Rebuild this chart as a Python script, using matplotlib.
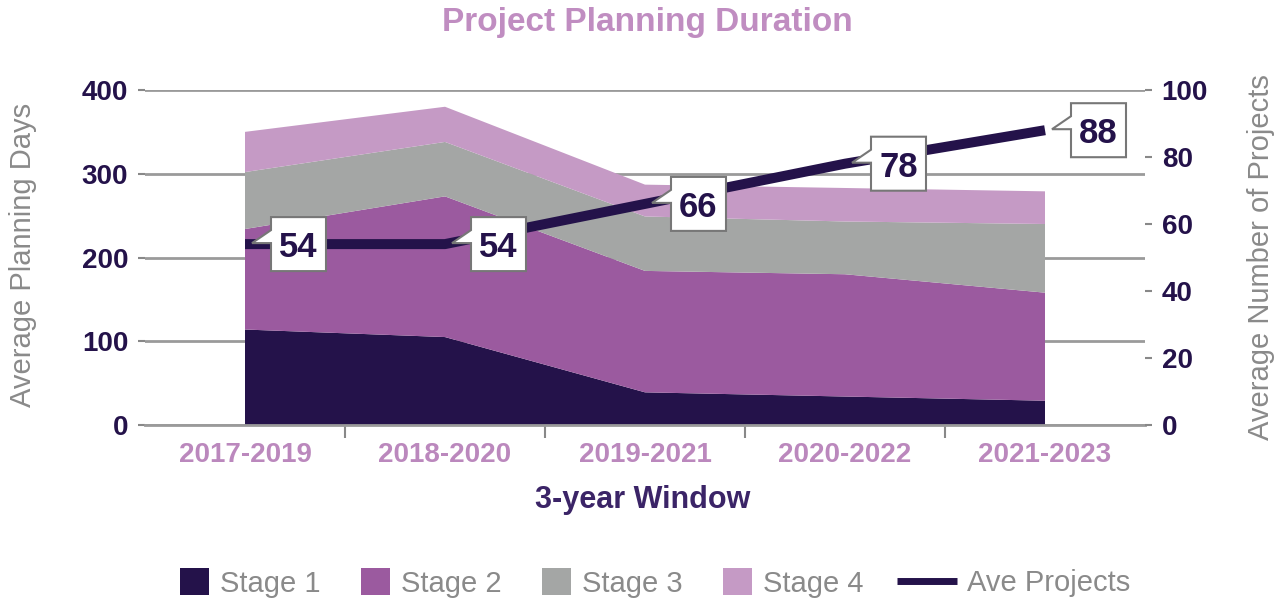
import numpy as np
import matplotlib.pyplot as plt
import matplotlib.transforms as mtransforms
from matplotlib.patches import Patch, Polygon
from matplotlib.lines import Line2D

plt.rcParams['font.family'] = ['Liberation Sans', 'DejaVu Sans']

windows = ['2017-2019', '2018-2020', '2019-2021', '2020-2022', '2021-2023']
stage1 = [114, 105, 39, 34, 29]
stage2 = [120, 168, 145, 146, 129]
stage3 = [68, 65, 65, 63, 82]
stage4 = [48, 42, 38, 40, 39]
ave_projects = [54, 54, 66, 78, 88]

stage_labels = ['Stage 1', 'Stage 2', 'Stage 3', 'Stage 4']
stage_colors = ['#24124a', '#9b5a9f', '#a4a6a5', '#c59ac5']
line_color = '#24124a'
dark = '#24124a'
pink = '#bb88bd'
gray_txt = '#8a8a8a'
grid_c = '#9a9a9a'

W, H = 1286, 602
fig = plt.figure(figsize=(W / 100, H / 100), dpi=100)
ax = fig.add_axes([145 / W, 177 / H, 1000 / W, 335 / H])

x = np.arange(len(windows))
ax.stackplot(x, stage1, stage2, stage3, stage4, colors=stage_colors, linewidth=0)
ax.set_xlim(-0.5, len(windows) - 0.5)
ax.set_ylim(0, 400)
ax.set_yticks([0, 100, 200, 300, 400])
ax.grid(axis='y', color=grid_c, lw=2)
ax.set_axisbelow(True)
for s in ['top', 'left', 'right']:
    ax.spines[s].set_visible(False)
ax.spines['bottom'].set_color(grid_c)
ax.spines['bottom'].set_linewidth(2)

ax.set_xticks(x, windows)
ax.set_xticks(x[:-1] + 0.5, minor=True)
ax.tick_params(axis='x', which='major', length=0, pad=12, labelsize=20, labelcolor=pink)
ax.tick_params(axis='x', which='minor', length=9, width=1.5, color='#888888')
ax.tick_params(axis='y', length=5, width=1.5, color='#888888', pad=7,
               labelsize=20, labelcolor=dark)
for lbl in ax.get_xticklabels() + ax.get_yticklabels():
    lbl.set_fontweight('bold')

# secondary axis: average number of projects
ax2 = ax.twinx()
ax2.set_ylim(0, 100)
ax2.set_yticks([0, 20, 40, 60, 80, 100])
for s in ax2.spines.values():
    s.set_visible(False)
ax2.tick_params(axis='y', length=5, width=1.5, color='#888888', pad=7,
                labelsize=20, labelcolor=dark)
for lbl in ax2.get_yticklabels():
    lbl.set_fontweight('bold')
ax2.plot(x, ave_projects, color=line_color, lw=7.2, solid_capstyle='butt', zorder=3)

# callout labels (offsets in pixels)
xl, xr, yb, yt = 26, 81, -27, 27
shape = np.array([(xl, yb), (xr, yb), (xr, yt), (xl, yt), (xl, 14), (7, 1), (xl, 1)]) / 100
for xi, v in zip(x, ave_projects):
    trans = fig.dpi_scale_trans + mtransforms.ScaledTranslation(xi, v, ax2.transData)
    ax2.add_artist(Polygon(shape, closed=True, transform=trans, facecolor='white',
                           edgecolor='#777777', lw=1.5, zorder=5, clip_on=False))
    ax2.text((xl + xr) / 200, 0, str(v), transform=trans, ha='center', va='center_baseline',
             fontsize=25, fontweight='bold', color=dark, zorder=6)

fig.text(647 / W, 1 - 22 / H, 'Project Planning Duration', ha='center', va='center',
         fontsize=24, fontweight='bold', color='#c08dc1')
fig.text(643 / W, 1 - 500 / H, '3-year Window', ha='center', va='center',
         fontsize=22, fontweight='bold', color='#3b2467')
fig.text(23 / W, 1 - 255 / H, 'Average Planning Days', ha='center', va='center',
         rotation=90, fontsize=21, color=gray_txt)
fig.text(1261 / W, 1 - 257 / H, 'Average Number of Projects', ha='center', va='center',
         rotation=90, fontsize=21, color=gray_txt)

# legends
patches = [Patch(facecolor=c, edgecolor='none') for c in stage_colors]
fig.legend(patches, stage_labels, loc='center left', bbox_to_anchor=(180 / W, 19 / H),
           ncol=4, frameon=False, fontsize=21, handlelength=1.0, handleheight=1.0,
           handletextpad=0.38, columnspacing=1.38, borderpad=0, borderaxespad=0,
           labelcolor=gray_txt)
fig.legend([Line2D([], [], color=line_color, lw=5, solid_capstyle='butt')], ['Ave Projects'],
           loc='center left', bbox_to_anchor=(897 / W, 19 / H), frameon=False, fontsize=21,
           handlelength=2.05, handletextpad=0.35, borderpad=0, borderaxespad=0,
           labelcolor=gray_txt)

fig.savefig('out.png', dpi=100)
